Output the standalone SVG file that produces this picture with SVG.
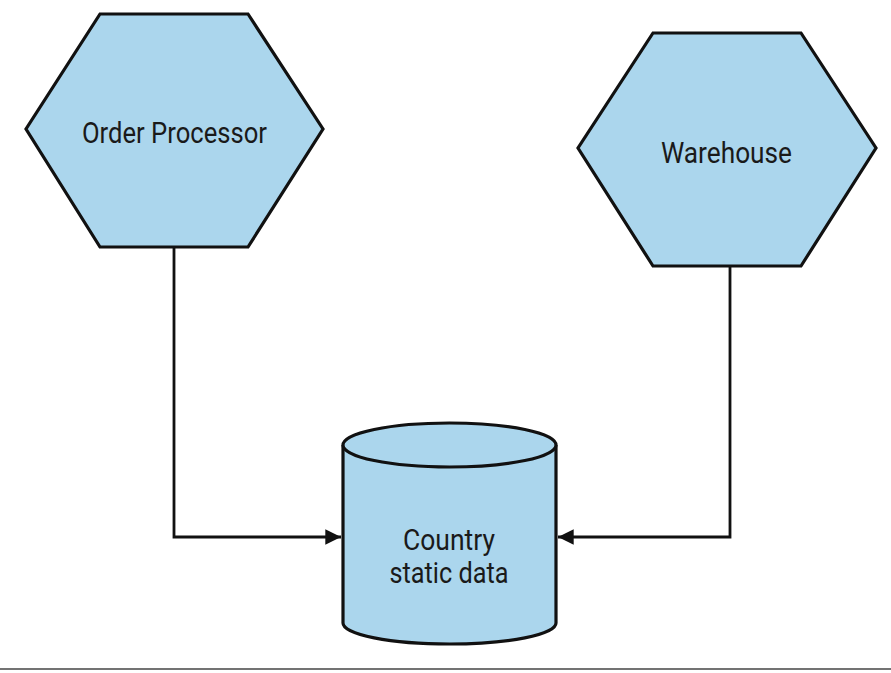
<svg xmlns="http://www.w3.org/2000/svg" width="891" height="673" viewBox="0 0 891 673">
<defs>
<style>
.shape{fill:#abd6ed;stroke:#111;stroke-width:3.2;stroke-linejoin:miter}
.conn{fill:none;stroke:#111;stroke-width:2.8}
.lbl{font-family:Roboto,"Liberation Sans",sans-serif;font-size:30px;fill:#1a1a1a;text-anchor:middle}
</style>
<marker id="arr" viewBox="0 0 10 10" refX="10" refY="5" markerWidth="5.6" markerHeight="6" orient="auto" markerUnits="strokeWidth">
<path d="M0,0 L10,5 L0,10 z" fill="#111"/>
</marker>
</defs>
<rect width="891" height="673" fill="#fff"/>
<g id="connectors">
<path class="conn" d="M174,247 V537 H341" marker-end="url(#arr)"/>
<path class="conn" d="M730,266 V537 H558" marker-end="url(#arr)"/>
</g>
<g id="order-processor">
<polygon class="shape" points="100,14 248,14 323,129 248,247 100,247 26,129"/>
<text class="lbl" x="174.5" y="143" textLength="185" lengthAdjust="spacingAndGlyphs">Order Processor</text>
</g>
<g id="warehouse">
<polygon class="shape" points="653,33 801,33 876,148 801,266 653,266 578,148"/>
<text class="lbl" x="726.5" y="163" textLength="131" lengthAdjust="spacingAndGlyphs">Warehouse</text>
</g>
<g id="country-static-data">
<path class="shape" d="M343,445 V623 A106.5,21 0 0 0 556,623 V445"/>
<ellipse class="shape" cx="449.5" cy="445" rx="106.5" ry="22"/>
<text class="lbl" x="449" y="550" textLength="92" lengthAdjust="spacingAndGlyphs">Country</text>
<text class="lbl" x="449" y="583" textLength="119" lengthAdjust="spacingAndGlyphs">static data</text>
</g>
<line x1="0" y1="669" x2="891" y2="669" stroke="#444" stroke-width="1.5"/>
</svg>
